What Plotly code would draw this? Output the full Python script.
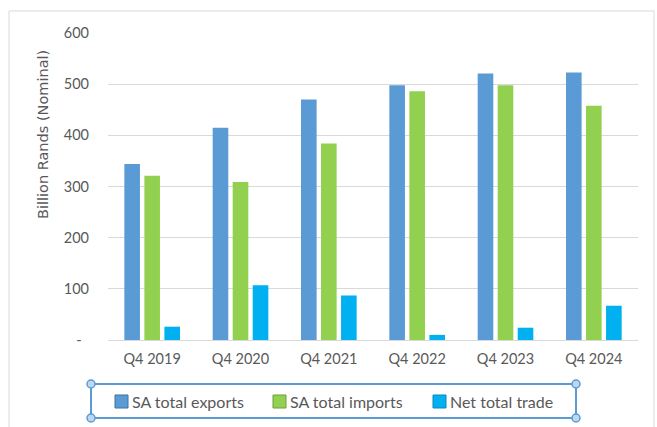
import plotly.graph_objects as go

# Quarterly trade figures, billion rands (nominal)
quarters = ["Q4 2019", "Q4 2020", "Q4 2021", "Q4 2022", "Q4 2023", "Q4 2024"]
exports = [344, 415, 470, 498, 521, 523]
imports = [321, 309, 384, 486, 498, 458]
net_trade = [26, 107, 87, 10, 24, 67]

y_ticks = [0, 100, 200, 300, 400, 500, 600]
y_tick_text = ["-\u00a0\u00a0", "100", "200", "300", "400", "500", "600"]

series = [
    ("SA total exports", exports, "#5B9BD5", "#41719C"),
    ("SA total imports", imports, "#92D050", "#6E9E3A"),
    ("Net total trade", net_trade, "#00B0F0", "#0B86BC"),
]

W, H = 657, 427
L, R, T, B = 108, 19, 33, 87
PW, PH = W - L - R, H - T - B


def px_x(x):
    return (x - L) / PW


def px_y(y):
    return (H - B - y) / PH


FONT = "Lato, 'Open Sans', sans-serif"
GREY = "#595959"

fig = go.Figure()
for name, vals, color, edge in series:
    fig.add_trace(go.Bar(
        name=name, x=quarters, y=vals,
        marker=dict(color=color, line=dict(width=0)),
        showlegend=False,
    ))

shapes = []
annotations = []

# light outer frame of the chart area
shapes.append(dict(type="rect", xref="paper", yref="paper",
                   x0=px_x(9), x1=px_x(654), y0=px_y(440), y1=px_y(11),
                   line=dict(color="#D9D9D9", width=1), layer="below"))

# legend box with selection handles
bx0, bx1, by0, by1 = 91, 576, 384, 418
shapes.append(dict(type="rect", xref="paper", yref="paper",
                   x0=px_x(bx0), x1=px_x(bx1), y0=px_y(by1), y1=px_y(by0),
                   line=dict(color="#5B9BD5", width=2)))
for cx, cy in [(bx0, by0), (bx1, by0), (bx0, by1), (bx1, by1)]:
    shapes.append(dict(type="circle", xref="paper", yref="paper",
                       x0=px_x(cx - 4), x1=px_x(cx + 4),
                       y0=px_y(cy + 4), y1=px_y(cy - 4),
                       fillcolor="#BDD7EE", line=dict(color="#5B9BD5", width=1.5)))

legend_x = [115, 273, 433]
for (name, vals, color, edge), sx in zip(series, legend_x):
    shapes.append(dict(type="rect", xref="paper", yref="paper",
                       x0=px_x(sx), x1=px_x(sx + 13),
                       y0=px_y(408), y1=px_y(395),
                       fillcolor=color, line=dict(color=edge, width=1)))
    annotations.append(dict(text=name, xref="paper", yref="paper",
                            x=px_x(sx + 15), y=px_y(401.5),
                            xanchor="left", yanchor="middle", showarrow=False,
                            font=dict(family=FONT, size=16, color=GREY)))

# rotated axis title
annotations.append(dict(text="Billion Rands (Nominal)", xref="paper", yref="paper",
                        x=px_x(43), y=px_y(135), textangle=-90,
                        xanchor="center", yanchor="middle", showarrow=False,
                        font=dict(family="'DejaVu Sans', sans-serif", size=14.5, color=GREY)))

fig.update_layout(
    width=W, height=H,
    margin=dict(l=L, r=R, t=T, b=B, pad=0),
    paper_bgcolor="white", plot_bgcolor="white",
    barmode="group", bargap=0.32, bargroupgap=0.22,
    font=dict(family=FONT, size=14, color=GREY),
    shapes=shapes, annotations=annotations,
    showlegend=False,
)
fig.update_xaxes(showgrid=False, showline=True, linecolor="#D9D9D9", linewidth=1,
                 ticks="", tickfont=dict(family=FONT, size=14.5, color=GREY),
                 ticklabelstandoff=6)
fig.update_yaxes(range=[0, 600], tickvals=y_ticks, ticktext=y_tick_text,
                 showgrid=True, gridcolor="#D9D9D9", gridwidth=1,
                 zeroline=False, showline=False, ticks="",
                 tickfont=dict(family=FONT, size=14.5, color=GREY),
                 ticklabelstandoff=18)

fig.write_html("out.html")
